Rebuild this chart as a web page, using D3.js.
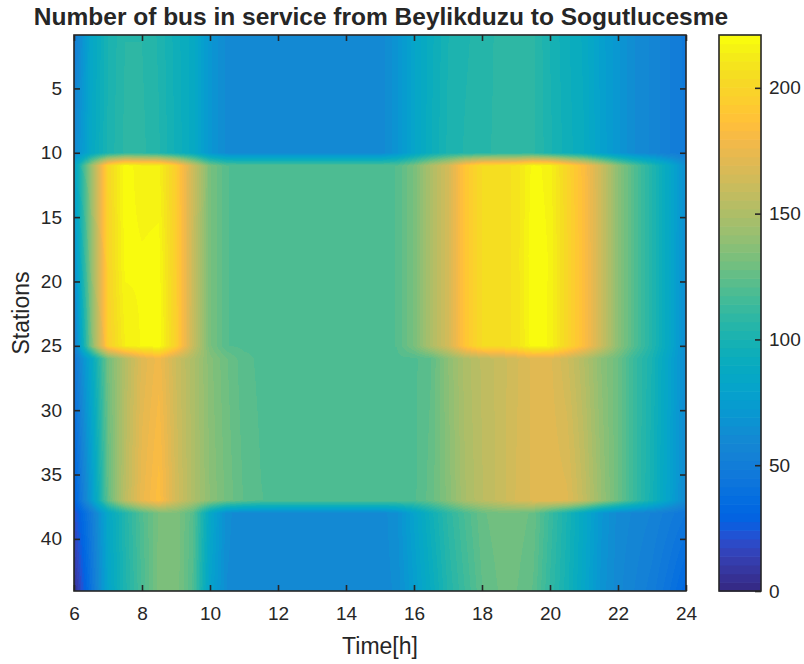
<!DOCTYPE html>
<html>
<head>
<meta charset="utf-8">
<script src="https://cdn.jsdelivr.net/npm/d3@7"></script>
<style>
  body { margin: 0; background: #fff; }
  text { font-family: "Liberation Sans", Arial, Helvetica, sans-serif; fill: #262626; }
</style>
</head>
<body>
<svg id="chart" width="804" height="664"></svg>
<script>
// ---- data: buses in service, per station row, every half hour from 06:00 to 24:00 ----
const hours = [6, 6.5, 7, 7.5, 8, 8.5, 9, 9.5, 10, 10.5, 11, 11.5, 12, 12.5, 13, 13.5, 14, 14.5,
               15, 15.5, 16, 16.5, 17, 17.5, 18, 18.5, 19, 19.5, 20, 20.5, 21, 21.5, 22, 22.5, 23, 23.5, 24];

const stationRows = [1, 10, 11, 18, 25, 26, 37, 38, 44];

const busesSt1  = [50, 84, 100, 107, 107, 103, 95, 88, 70, 61, 60, 60, 60, 60, 60, 60, 60, 60,
                   60, 68, 82, 92, 100, 103, 105, 108, 108, 108, 100, 94, 89, 78, 70, 62, 58, 52, 47];
const busesSt10 = [60, 86, 101, 108, 108, 104, 96, 88, 70, 61, 60, 60, 60, 60, 60, 60, 60, 60,
                   60, 68, 82, 93, 101, 104, 106, 108, 108, 108, 101, 95, 90, 79, 70, 62, 58, 52, 48];
const busesSt11 = [80, 142, 200, 220, 215, 215, 195, 162, 132, 121, 120, 120, 120, 120, 120, 120, 120, 120,
                   120, 121, 132, 150, 165, 190, 204, 205, 208, 219, 216, 200, 184, 162, 138, 120, 104, 86, 64];
const busesSt18 = [66, 138, 199, 219, 218, 219, 196, 161, 132, 121, 120, 120, 120, 120, 120, 120, 120, 120,
                   120, 121, 132, 150, 165, 190, 204, 205, 208, 221, 217, 201, 185, 162, 138, 120, 104, 86, 63];
const busesSt25 = [50, 132, 196, 214, 218, 221, 197, 160, 132, 121, 120, 120, 120, 120, 120, 120, 120, 120,
                   120, 121, 132, 150, 165, 190, 204, 205, 208, 220, 217, 201, 185, 162, 138, 120, 104, 86, 62];
const busesSt26 = [45, 85, 130, 152, 170, 178, 162, 150, 136, 128, 122, 120, 120, 120, 120, 120, 120, 120,
                   120, 120, 120, 124, 138, 150, 156, 160, 165, 170, 170, 163, 152, 138, 128, 112, 100, 82, 62];
const busesSt37 = [28, 72, 125, 155, 175, 185, 165, 150, 138, 130, 124, 121, 120, 120, 120, 120, 120, 120,
                   120, 120, 120, 126, 136, 148, 155, 160, 166, 170, 172, 170, 158, 142, 128, 112, 98, 80, 60];
const busesSt38 = [20, 48, 85, 104, 120, 132, 134, 122, 85, 63, 60, 60, 60, 60, 60, 60, 60, 60,
                   60, 65, 80, 95, 108, 118, 127, 130, 130, 127, 113, 100, 86, 70, 61, 58, 55, 50, 45];
const busesSt44 = [4, 42, 82, 102, 118, 133, 134, 120, 80, 62, 60, 60, 60, 60, 60, 60, 60, 60,
                   60, 63, 76, 90, 104, 114, 124, 128, 128, 124, 110, 98, 84, 68, 60, 55, 50, 42, 32];

const busCounts = [busesSt1, busesSt10, busesSt11, busesSt18, busesSt25,
                   busesSt26, busesSt37, busesSt38, busesSt44];

const hourTicks = [6, 8, 10, 12, 14, 16, 18, 20, 22, 24];
const stationTicks = [5, 10, 15, 20, 25, 30, 35, 40];
const colorTicks = [0, 50, 100, 150, 200];
const colorLimits = [0, 221];

// ---- parula colour map, 64 entries ----
const parula = [
[0.2081,0.1663,0.5292],[0.2116,0.1898,0.5777],[0.2123,0.2138,0.6270],[0.2081,0.2386,0.6771],
[0.1959,0.2645,0.7279],[0.1707,0.2919,0.7792],[0.1253,0.3242,0.8303],[0.0591,0.3598,0.8683],
[0.0117,0.3875,0.8820],[0.0060,0.4086,0.8828],[0.0165,0.4266,0.8786],[0.0329,0.4430,0.8720],
[0.0498,0.4586,0.8641],[0.0629,0.4737,0.8554],[0.0723,0.4887,0.8467],[0.0779,0.5040,0.8384],
[0.0793,0.5200,0.8312],[0.0749,0.5375,0.8263],[0.0641,0.5570,0.8240],[0.0488,0.5772,0.8228],
[0.0343,0.5966,0.8199],[0.0265,0.6137,0.8135],[0.0239,0.6287,0.8038],[0.0231,0.6418,0.7913],
[0.0228,0.6535,0.7768],[0.0267,0.6642,0.7607],[0.0384,0.6743,0.7436],[0.0590,0.6838,0.7254],
[0.0843,0.6928,0.7062],[0.1133,0.7015,0.6859],[0.1453,0.7098,0.6646],[0.1801,0.7177,0.6424],
[0.2178,0.7250,0.6193],[0.2586,0.7317,0.5954],[0.3022,0.7376,0.5712],[0.3482,0.7424,0.5473],
[0.3953,0.7459,0.5244],[0.4420,0.7481,0.5033],[0.4871,0.7491,0.4840],[0.5300,0.7491,0.4661],
[0.5709,0.7485,0.4494],[0.6099,0.7473,0.4337],[0.6473,0.7456,0.4188],[0.6834,0.7435,0.4044],
[0.7184,0.7411,0.3905],[0.7525,0.7384,0.3768],[0.7858,0.7356,0.3633],[0.8185,0.7327,0.3498],
[0.8507,0.7299,0.3360],[0.8824,0.7274,0.3217],[0.9139,0.7258,0.3063],[0.9450,0.7261,0.2886],
[0.9739,0.7314,0.2666],[0.9938,0.7455,0.2403],[0.9990,0.7653,0.2164],[0.9955,0.7861,0.1967],
[0.9880,0.8066,0.1794],[0.9789,0.8271,0.1633],[0.9697,0.8481,0.1475],[0.9626,0.8705,0.1309],
[0.9589,0.8949,0.1132],[0.9598,0.9218,0.0948],[0.9661,0.9514,0.0755],[0.9763,0.9831,0.0538]
].map(c => c.map(v => Math.round(v * 255)));

// ---- layout ----
const ink = "#262626";
const plot = { left: 74, right: 686, top: 35, bottom: 591 };
const cbar = { left: 719, right: 761 };
const tickFont = 19;

const svg = d3.select("#chart");

const x = d3.scaleLinear().domain([6, 24]).range([plot.left, plot.right]);
const y = d3.scaleLinear().domain([0.85, 44.05]).range([plot.top, plot.bottom]);
const color = d3.scaleQuantize().domain(colorLimits).range(d3.range(parula.length));

// ---- interpolated surface, rasterised pixel by pixel ----
function locate(arr, v) {
  if (v <= arr[0]) return [0, 0];
  if (v >= arr[arr.length - 1]) return [arr.length - 2, 1];
  const i = d3.bisectRight(arr, v) - 1;
  return [i, (v - arr[i]) / (arr[i + 1] - arr[i])];
}

const W = plot.right - plot.left, H = plot.bottom - plot.top;
const canvas = document.createElement("canvas");
canvas.width = W; canvas.height = H;
const ctx = canvas.getContext("2d");
const img = ctx.createImageData(W, H);
for (let py = 0; py < H; py++) {
  const [j, fy] = locate(stationRows, y.invert(plot.top + py + 0.5));
  const r0 = busCounts[j], r1 = busCounts[j + 1];
  for (let px = 0; px < W; px++) {
    const [i, fx] = locate(hours, x.invert(plot.left + px + 0.5));
    const a = r0[i] + (r0[i + 1] - r0[i]) * fx;
    const b = r1[i] + (r1[i + 1] - r1[i]) * fx;
    const c = parula[color(a + (b - a) * fy)];
    const k = (py * W + px) * 4;
    img.data[k] = c[0]; img.data[k + 1] = c[1]; img.data[k + 2] = c[2]; img.data[k + 3] = 255;
  }
}
ctx.putImageData(img, 0, 0);

svg.append("image")
  .attr("x", plot.left).attr("y", plot.top)
  .attr("width", W).attr("height", H)
  .attr("preserveAspectRatio", "none")
  .attr("href", canvas.toDataURL());

// ---- axes ----
const tickLen = 6;
function styleAxis(g) {
  g.select(".domain").remove();
  g.selectAll(".tick line").attr("stroke", ink).attr("stroke-width", 1.6);
  g.selectAll(".tick text").attr("font-size", tickFont).attr("fill", ink);
}

svg.append("g").attr("transform", `translate(0,${plot.bottom})`)
  .call(d3.axisBottom(x).tickValues(hourTicks).tickSize(-tickLen).tickPadding(16).tickFormat(d3.format("d")))
  .call(styleAxis);
svg.append("g").attr("transform", `translate(0,${plot.top})`)
  .call(d3.axisTop(x).tickValues(hourTicks).tickSize(-tickLen).tickFormat(""))
  .call(styleAxis);
svg.append("g").attr("transform", `translate(${plot.left},0)`)
  .call(d3.axisLeft(y).tickValues(stationTicks).tickSize(-tickLen).tickPadding(12).tickFormat(d3.format("d")))
  .call(styleAxis);
svg.append("g").attr("transform", `translate(${plot.right},0)`)
  .call(d3.axisRight(y).tickValues(stationTicks).tickSize(-tickLen).tickFormat(""))
  .call(styleAxis);

svg.append("rect")
  .attr("x", plot.left).attr("y", plot.top).attr("width", W).attr("height", H)
  .attr("fill", "none").attr("stroke", ink).attr("stroke-width", 1.6);

// ---- labels and title ----
svg.append("text")
  .attr("x", (plot.left + plot.right) / 2).attr("y", 654)
  .attr("text-anchor", "middle").attr("font-size", 23)
  .text("Time[h]");

svg.append("text")
  .attr("transform", `translate(29,${(plot.top + plot.bottom) / 2}) rotate(-90)`)
  .attr("text-anchor", "middle").attr("font-size", 23)
  .text("Stations");

svg.append("text")
  .attr("x", 381).attr("y", 25)
  .attr("text-anchor", "middle").attr("font-size", 24.5).attr("font-weight", "bold")
  .attr("fill", "#000")
  .text("Number of bus in service from Beylikduzu to Sogutlucesme");

// ---- colour bar ----
const cy = d3.scaleLinear().domain(colorLimits).range([plot.bottom, plot.top]);
const step = (colorLimits[1] - colorLimits[0]) / parula.length;
svg.append("g").selectAll("rect")
  .data(parula)
  .join("rect")
  .attr("x", cbar.left).attr("width", cbar.right - cbar.left)
  .attr("y", (d, i) => cy(colorLimits[0] + (i + 1) * step))
  .attr("height", (d, i) => cy(colorLimits[0] + i * step) - cy(colorLimits[0] + (i + 1) * step) + 0.6)
  .attr("fill", d => `rgb(${d[0]},${d[1]},${d[2]})`);

svg.append("g").attr("transform", `translate(${cbar.right},0)`)
  .call(d3.axisRight(cy).tickValues(colorTicks).tickSize(-tickLen).tickPadding(8).tickFormat(d3.format("d")))
  .call(styleAxis);

svg.append("rect")
  .attr("x", cbar.left).attr("y", plot.top)
  .attr("width", cbar.right - cbar.left).attr("height", H)
  .attr("fill", "none").attr("stroke", ink).attr("stroke-width", 1.6);
</script>
</body>
</html>
